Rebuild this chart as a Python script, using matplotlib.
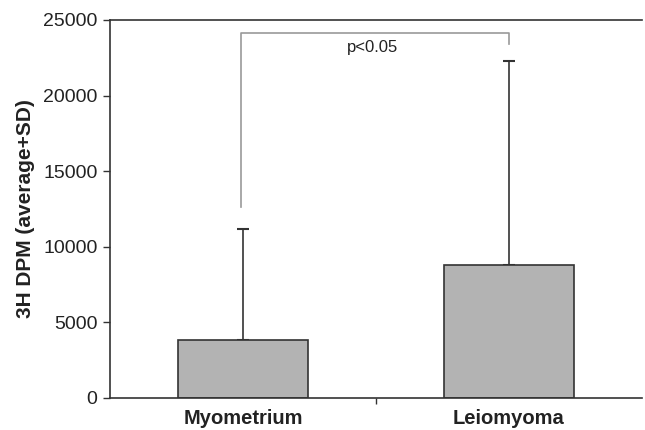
import matplotlib
matplotlib.use("Agg")
import matplotlib.pyplot as plt
import numpy as np

categories = ["Myometrium", "Leiomyoma"]
means = [3850, 8800]
sd = [7350, 13500]
yticks = [0, 5000, 10000, 15000, 20000, 25000]
sig_text = "p<0.05"

plt.rcParams['font.family'] = ['Liberation Sans', 'DejaVu Sans']

fig = plt.figure(figsize=(6.45, 4.3), dpi=100)
ax = fig.add_axes([110/645, 1-398/430, 532/645, 378/430])

x = np.arange(len(categories))
ax.bar(x, means, width=0.485, color="#b3b3b3", edgecolor="#333333", linewidth=1.2, zorder=2)
ax.errorbar(x, means, yerr=[np.zeros(len(sd)), sd], fmt="none", ecolor="#333333",
            elinewidth=1.2, capsize=4, capthick=1.5, zorder=1)

ax.set_xlim(-0.5, 1.5)
ax.set_ylim(0, 25000)
ax.set_yticks(yticks)
ax.set_yticklabels([str(v) for v in yticks], fontsize=14, color="#222222")
ax.set_xticks(x)
ax.set_xticklabels(categories, fontsize=14.5, fontweight="bold", color="#222222")
ax.tick_params(axis="x", which="major", length=0, pad=8)
ax.set_xticks([0.5], minor=True)
ax.tick_params(axis="x", which="minor", length=4, width=1, color="#333333")
ax.tick_params(axis="y", length=5, width=1, color="#333333", pad=4)
ax.set_ylabel("3H DPM (average+SD)", fontsize=15, fontweight="bold", color="#222222", labelpad=6)

for s in ["left", "bottom", "top"]:
    ax.spines[s].set_color("#333333")
    ax.spines[s].set_linewidth(1.2)
ax.spines["right"].set_visible(False)

# significance bracket
bx0, bx1 = -0.007, 1.0
ytop = 24150
ax.plot([bx0, bx0, bx1, bx1], [12650, ytop, ytop, 23400], color="#999999", linewidth=1.2, zorder=3)
ax.text((bx0 + bx1) / 2 - 0.01, 23150, sig_text, ha="center", va="center", fontsize=12, color="#222222")

fig.savefig("out.png", dpi=100)
